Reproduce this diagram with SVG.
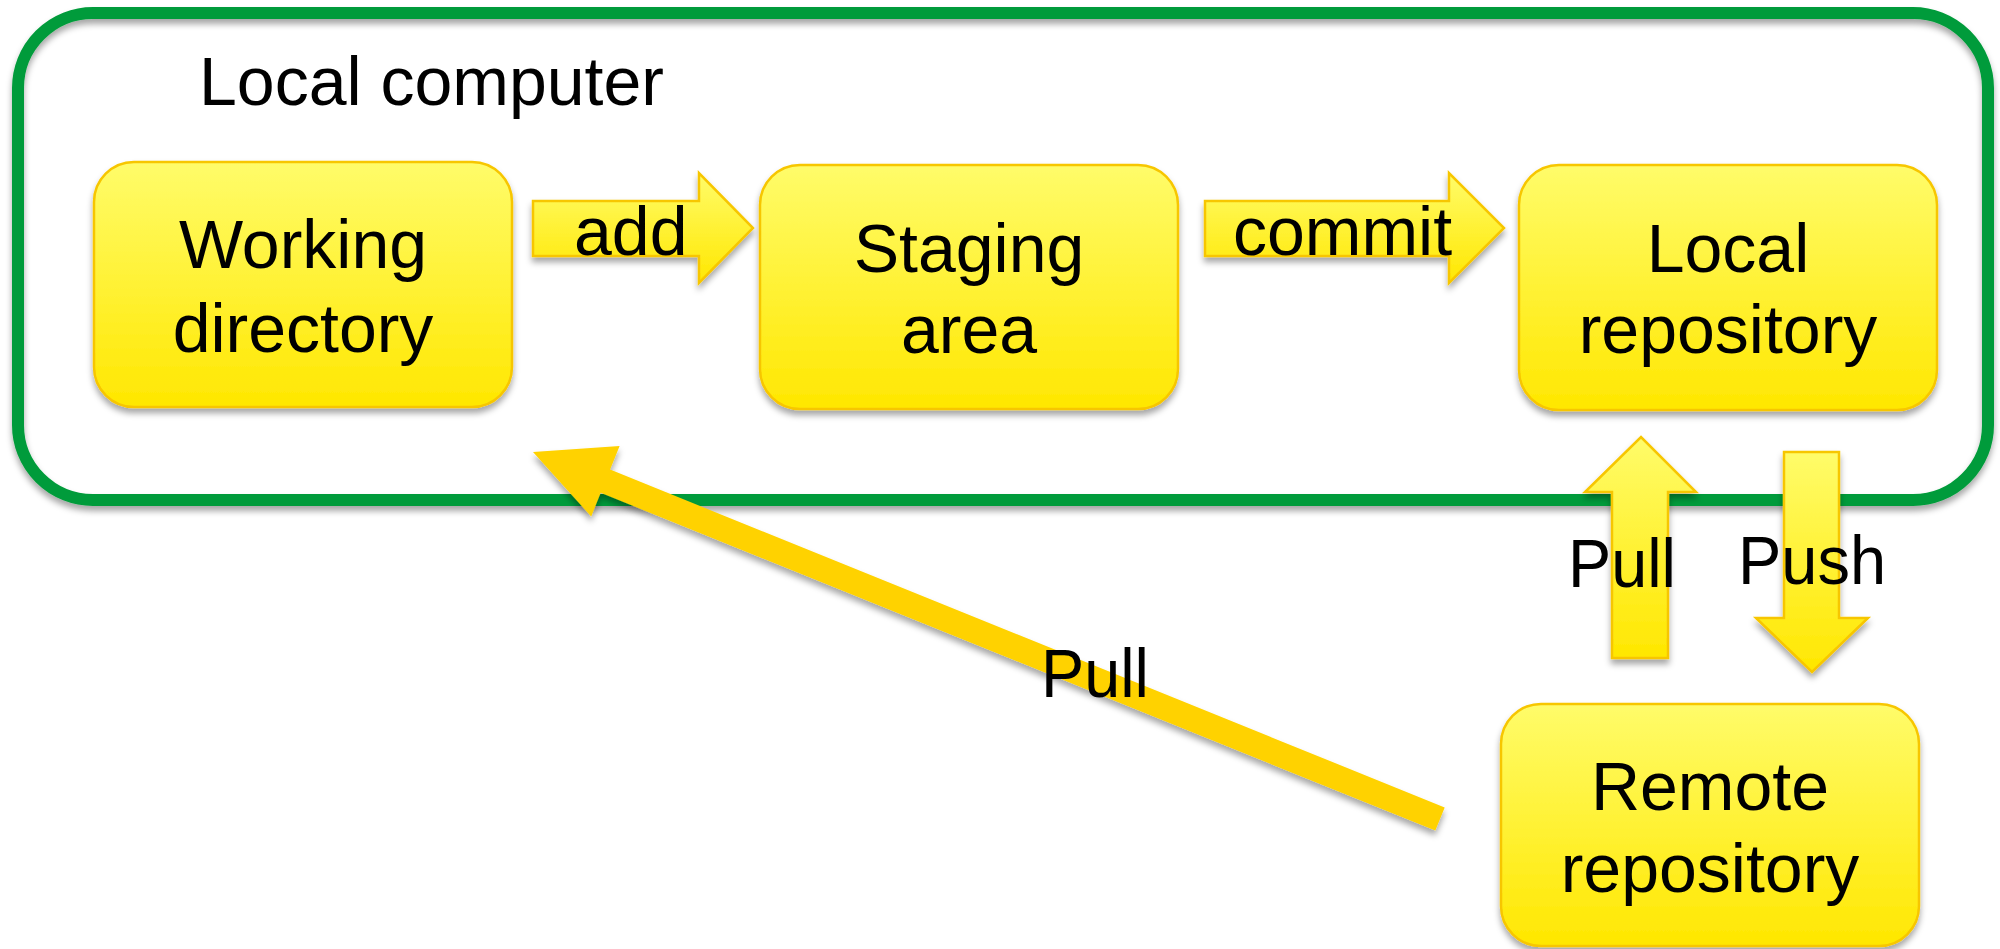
<svg xmlns="http://www.w3.org/2000/svg" width="2000" height="949" viewBox="0 0 2000 949">
<defs>
<linearGradient id="yg" x1="0" y1="0" x2="0" y2="1">
<stop offset="0" stop-color="#FFFC6A"/>
<stop offset="1" stop-color="#FFE700"/>
</linearGradient>
<filter id="sh" x="-10%" y="-10%" width="120%" height="130%">
<feDropShadow dx="0" dy="5" stdDeviation="3" flood-color="#000" flood-opacity="0.35"/>
</filter>
</defs>
<style>
.box{fill:url(#yg);stroke:#F7C600;stroke-width:2.5;filter:url(#sh)}
.blk{fill:url(#yg);stroke:#F7C600;stroke-width:2.5;stroke-linejoin:miter;filter:url(#sh)}
.t{font-family:"Liberation Sans",Arial,sans-serif;font-size:68px;fill:#000}
.c{text-anchor:middle}
</style>
<rect id="local-computer" x="18" y="13" width="1970" height="487" rx="75" ry="75" fill="none" stroke="#009B3A" stroke-width="12" filter="url(#sh)"/>
<text class="t" x="199" y="105">Local computer</text>
<g id="working-directory">
<rect class="box" x="94" y="162" width="418" height="245" rx="40" ry="40"/>
<text class="t c" x="303" y="268">Working</text>
<text class="t c" x="303" y="352">directory</text>
</g>
<g id="staging-area">
<rect class="box" x="760" y="165" width="418" height="244" rx="40" ry="40"/>
<text class="t c" x="969" y="272">Staging</text>
<text class="t c" x="969" y="353">area</text>
</g>
<g id="local-repository">
<rect class="box" x="1519" y="165" width="418" height="245" rx="40" ry="40"/>
<text class="t c" x="1728" y="272">Local</text>
<text class="t c" x="1728" y="353">repository</text>
</g>
<g id="remote-repository">
<rect class="box" x="1501" y="704" width="418" height="242" rx="40" ry="40"/>
<text class="t c" x="1710" y="810">Remote</text>
<text class="t c" x="1710" y="892">repository</text>
</g>
<g id="connectors">
<polygon class="blk" points="533,201 699,201 699,173 753,228 699,283 699,256 533,256"/>
<text class="t" x="574" y="255">add</text>
<polygon class="blk" points="1205,201 1449,201 1449,173 1504,228 1449,283 1449,256 1205,256"/>
<text class="t" x="1233" y="255">commit</text>
<polygon class="blk" points="1612,658 1612,492 1585,492 1641,437 1696,492 1668,492 1668,658"/>
<text class="t" x="1568" y="587" textLength="108" lengthAdjust="spacingAndGlyphs">Pull</text>
<polygon class="blk" points="1784,452 1839,452 1839,618 1868,618 1812,672 1756,618 1784,618"/>
<text class="t" x="1738" y="584" textLength="148" lengthAdjust="spacingAndGlyphs">Push</text>
<polygon fill="#FFD200" filter="url(#sh)" points="533,452 619.6,445.9 610.1,469.6 1444.7,807.4 1435.3,830.6 600.7,492.8 591.2,516.5"/>
<text class="t" x="1041" y="697" textLength="108" lengthAdjust="spacingAndGlyphs">Pull</text>
</g>
</svg>
